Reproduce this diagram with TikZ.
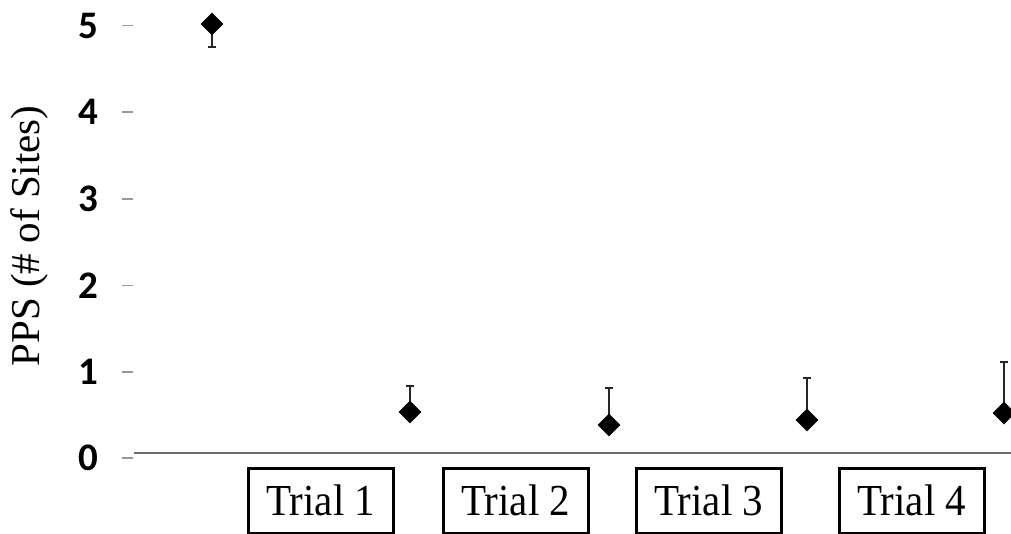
\documentclass[tikz,border=0pt]{standalone}
\usepackage{fontspec}
\setmainfont{Liberation Serif}
\newfontfamily\tickfont{Carlito}
\usetikzlibrary{shapes.geometric}
\begin{document}
\begin{tikzpicture}[x=1pt,y=-1pt,
  ticklab/.style={font=\tickfont\bfseries\fontsize{39}{39}\selectfont, anchor=east, inner sep=0},
  tickmark/.style={draw=gray!80, line width=1.5pt},
  axisline/.style={draw=gray!85!black, line width=2.2pt},
  trialbox/.style={draw=black, line width=2.5pt, minimum width=145pt, minimum height=65pt, inner sep=0, font=\fontsize{41}{41}\selectfont, anchor=north west},
  datapt/.style={diamond, fill=black, draw=none, minimum width=23pt, minimum height=23pt, inner sep=0},
  errbar/.style={draw=black!85, line width=2.2pt},
  errcap/.style={draw=black!85, line width=2.2pt}
]
\useasboundingbox (0,0) rectangle (1011,533);
% y-axis ticks and labels
\foreach \v/\yy in {0/458,1/372,2/285.4,3/198.8,4/112.2,5/25.6} {
  \node[ticklab] (t\v) at (98,\yy) {\v};
  \draw[tickmark] (122,\yy) -- (133,\yy);
}
% x axis line
\coordinate (axL) at (134,453);
\coordinate (axR) at (1011,453);
\draw[axisline] (axL) -- (axR);
% y label
\node[rotate=90, font=\fontsize{41}{41}\selectfont, inner sep=0] (ylab) at (29,236) {PPS (\# of Sites)};
% error bars
\foreach \i/\x/\y/\e in {1/212/24/47, 2/410/412/386, 3/609/425/388, 4/807/420/378, 5/1004/413/362} {
  \coordinate (e\i) at (\x,\e);
  \coordinate (c\i) at (\x,\y);
  \draw[errbar] (c\i) -- (e\i);
  \draw[errcap] ([xshift=-4pt]e\i) -- ([xshift=4pt]e\i);
  \node[datapt] (p\i) at (c\i) {};
}
% trial boxes
\node[trialbox] (b1) at (247,467) {\scalebox{1}[1.08]{Trial 1}};
\node[trialbox] (b2) at (442,467) {\scalebox{1}[1.08]{Trial 2}};
\node[trialbox] (b3) at (635,467) {\scalebox{1}[1.08]{Trial 3}};
\node[trialbox] (b4) at (838,467) {\scalebox{1}[1.08]{Trial 4}};
\end{tikzpicture}
\end{document}
